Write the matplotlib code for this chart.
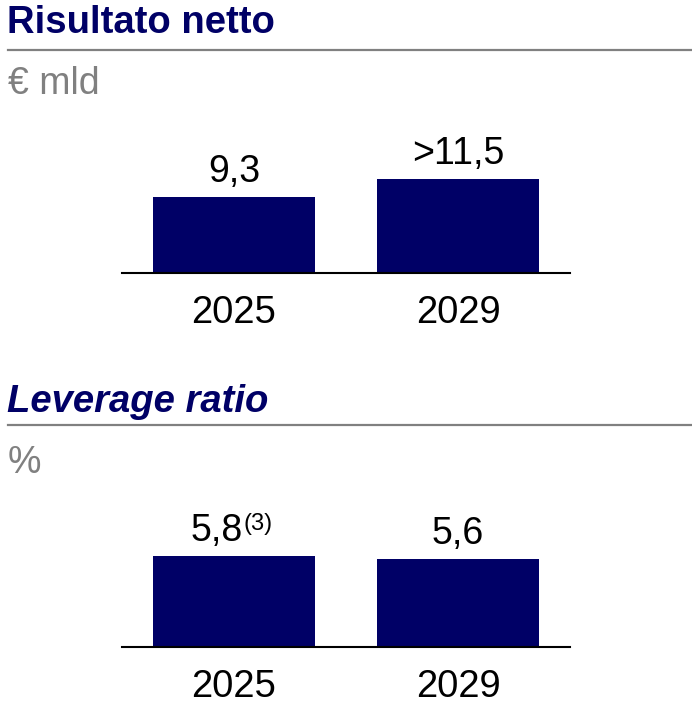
import matplotlib.pyplot as plt
from matplotlib.lines import Line2D

plt.rcParams['font.family'] = ['Liberation Sans', 'DejaVu Sans']

# dati
anni = ['2025', '2029']
risultato = [9.3, 11.5]
risultato_lbl = ['9,3', '>11,5']
leverage = [5.8, 5.6]
leverage_lbl = ['5,8', '5,6']

navy = '#000066'
grigio = '#808080'
W, H = 692, 704
FS = 27

fig = plt.figure(figsize=(W / 100, H / 100), dpi=100)


def px(x, y):
    return x / W, 1 - y / H


# intestazioni
def intestazione(testo, y_tit, y_line, y_unit, unita, stile):
    fig.text(*px(7, y_tit), testo, fontsize=27.5, fontweight='bold', style=stile,
             color=navy, va='center', ha='left')
    fig.add_artist(Line2D([8 / W, 1], [1 - y_line / H] * 2, color=grigio, lw=1.6))
    fig.text(*px(8, y_unit), unita, fontsize=FS, color=grigio, va='center', ha='left')


intestazione('Risultato netto', 23, 50, 84, '€ mld', 'normal')
intestazione('Leverage ratio', 402, 425, 463, '%', 'italic')


def grafico(base_y, top_y, valori, etichette, scala):
    l, b = px(122, base_y)
    h = (base_y - top_y) / H
    ax = fig.add_axes([l, b, 448 / W, h])
    ax.bar(range(len(valori)), valori, width=0.72, color=navy)
    ax.set_xlim(-0.5, 1.5)
    ax.set_ylim(0, (base_y - top_y) / scala)
    for s in ['top', 'left', 'right']:
        ax.spines[s].set_visible(False)
    ax.spines['bottom'].set_linewidth(1.5)
    ax.set_yticks([])
    ax.set_xticks(range(len(anni)))
    ax.set_xticklabels(anni, fontsize=FS + 0.5)
    ax.tick_params(axis='x', length=0, pad=16)
    ax.patch.set_alpha(0)
    return ax


ax1 = grafico(273, 140, risultato, risultato_lbl, 8.2)
for i, (v, t) in enumerate(zip(risultato, risultato_lbl)):
    ax1.annotate(t, (i, v), xytext=(0, 5), textcoords='offset points',
                 ha='center', va='bottom', fontsize=FS)

ax2 = grafico(647, 515, leverage, leverage_lbl, 15.7)
ax2.annotate(leverage_lbl[0], (0, leverage[0]), xytext=(6, 5), textcoords='offset points',
             ha='right', va='bottom', fontsize=FS)
ax2.annotate('(3)', (0, leverage[0]), xytext=(7, 15), textcoords='offset points',
             ha='left', va='bottom', fontsize=17)
ax2.annotate(leverage_lbl[1], (1, leverage[1]), xytext=(0, 5), textcoords='offset points',
             ha='center', va='bottom', fontsize=FS)

fig.savefig('out.png', dpi=100)
